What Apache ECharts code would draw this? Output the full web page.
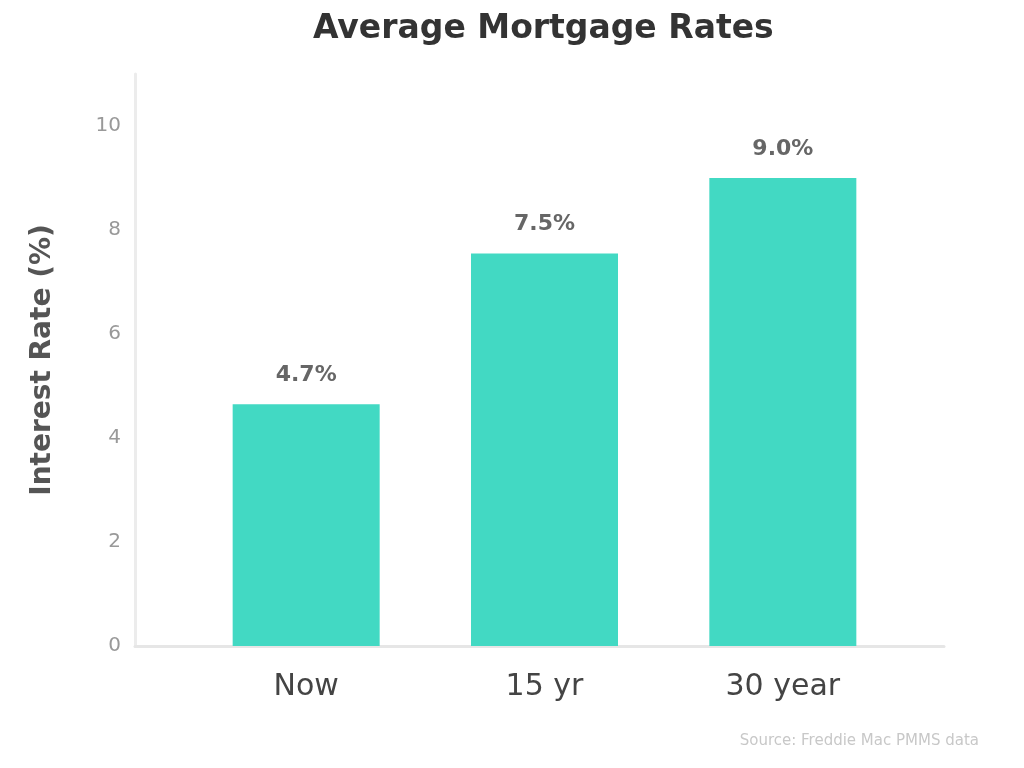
<!DOCTYPE html>
<html>
<head>
<meta charset="utf-8">
<script src="https://cdn.jsdelivr.net/npm/echarts@6/dist/echarts.min.js"></script>
<style>html,body{margin:0;padding:0;background:#fff}#c{width:1024px;height:768px}</style>
</head>
<body>
<div id="c"></div>
<script>
const titleText = "Average Mortgage Rates";
const yAxisName = "Interest Rate (%)";
const sourceText = "Source: Freddie Mac PMMS data";
const categories = ["Now", "15 yr", "30 year"];
const rates = [4.65, 7.55, 9.0];
const yTicks = [0, 2, 4, 6, 8, 10];

const chart = echarts.init(document.getElementById('c'));
chart.setOption({
  backgroundColor: '#ffffff',
  animation: false,
  title: [{
    text: titleText, left: 308, top: 8,
    textStyle: {fontFamily: 'DejaVu Sans', fontSize: 33, fontWeight: 'bold', color: '#333'}
  }, {
    text: sourceText, right: 40, bottom: 14,
    textStyle: {fontFamily: 'DejaVu Sans', fontSize: 15, fontWeight: 'normal', color: '#c8c8c8'}
  }],
  grid: [
    {left: 135, right: 80, top: 74, bottom: 122},
    {left: 187, right: 122, top: 74, bottom: 122}
  ],
  xAxis: [{
    gridIndex: 0, type: 'value', min: 0, max: 1,
    axisLine: {show: true, lineStyle: {color: '#e6e6e6', width: 3}},
    axisTick: {show: false}, axisLabel: {show: false}, splitLine: {show: false}
  }, {
    gridIndex: 1, type: 'category', data: categories,
    axisLine: {show: false}, axisTick: {show: false},
    axisLabel: {fontFamily: 'DejaVu Sans', fontSize: 30, color: '#444', margin: 26}
  }],
  yAxis: [{
    gridIndex: 0, type: 'value', min: 0, max: 11, interval: 2,
    name: yAxisName, nameLocation: 'middle', nameGap: 78,
    nameTextStyle: {fontFamily: 'DejaVu Sans', fontSize: 28, fontWeight: 'bold', color: '#555'},
    axisLine: {show: true, lineStyle: {color: '#ececec', width: 3}},
    axisTick: {show: false},
    axisLabel: {showMaxLabel: false, fontFamily: 'DejaVu Sans', fontSize: 20, color: '#999', margin: 14,
      formatter: v => yTicks.includes(v) ? String(v) : ''},
    splitLine: {show: false}
  }, {
    gridIndex: 1, type: 'value', min: 0, max: 11, show: false, splitLine: {show: false}
  }],
  series: [{
    type: 'bar', xAxisIndex: 1, yAxisIndex: 1,
    data: rates, barWidth: 147,
    itemStyle: {color: '#42d9c3'},
    label: {show: true, position: 'top', distance: 18, formatter: p => p.value.toFixed(1) + '%',
      fontFamily: 'DejaVu Sans', fontSize: 22, fontWeight: 'bold', color: '#666'}
  }]
});
</script>
</body>
</html>
